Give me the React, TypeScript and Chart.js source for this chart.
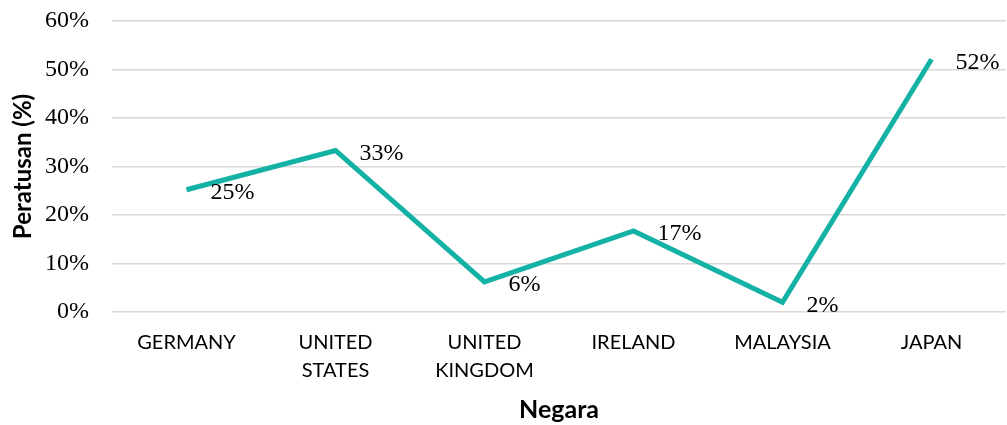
import React, { useEffect, useRef } from "react";
import { Chart, registerables } from "chart.js";

Chart.register(...registerables);

const categories: string[][] = [
  ["GERMANY"],
  ["UNITED", "STATES"],
  ["UNITED", "KINGDOM"],
  ["IRELAND"],
  ["MALAYSIA"],
  ["JAPAN"],
];
const values: number[] = [25.2, 33.3, 6.2, 16.7, 2.0, 52.1];
const valueLabels: string[] = ["25%", "33%", "6%", "17%", "2%", "52%"];
const yTicks: number[] = [0, 10, 20, 30, 40, 50, 60];

const LINE_COLOR = "#14B1A5";

const labelPlugin = {
  id: "valueLabels",
  afterDatasetsDraw(chart: any) {
    const ctx = chart.ctx;
    const meta = chart.getDatasetMeta(0);
    ctx.save();
    ctx.font = "24px 'Liberation Serif', 'Times New Roman', serif";
    ctx.fillStyle = "#000000";
    ctx.textAlign = "left";
    ctx.textBaseline = "middle";
    meta.data.forEach((pt: any, i: number) => {
      ctx.fillText(valueLabels[i], pt.x + 24, pt.y + 3);
    });
    ctx.restore();
  },
};

export default function App() {
  const ref = useRef<HTMLCanvasElement | null>(null);
  useEffect(() => {
    if (!ref.current) return;
    const chart = new Chart(ref.current, {
      type: "line",
      data: {
        labels: categories,
        datasets: [
          {
            data: values,
            borderColor: LINE_COLOR,
            borderWidth: 5,
            pointRadius: 0,
            tension: 0,
            fill: false,
          },
        ],
      },
      options: {
        animation: false,
        responsive: false,
        maintainAspectRatio: false,
        layout: { padding: { top: 21, right: 1, left: 0, bottom: 0 } },
        plugins: { legend: { display: false }, tooltip: { enabled: false } },
        scales: {
          x: {
            offset: true,
            grid: { display: false, drawTicks: false },
            border: { display: false },
            ticks: {
              color: "#000000",
              padding: 16,
              maxRotation: 0,
              autoSkip: false,
              font: { family: "Lato, 'Open Sans', sans-serif", size: 20, lineHeight: 1.43 },
            },
            title: {
              display: true,
              text: "Negara",
              color: "#000000",
              font: { family: "Lato, 'Open Sans', sans-serif", size: 25, weight: "bold" },
              padding: { top: 0, bottom: 0 },
            },
            afterFit: (s: any) => {
              s.height = 113;
              s.paddingLeft = 0;
              s.paddingRight = 0;
            },
          },
          y: {
            min: 0,
            max: 60,
            afterBuildTicks: (s: any) => {
              s.ticks = yTicks.map((v) => ({ value: v }));
            },
            grid: { color: "#D9D9D9", lineWidth: 1.5, drawTicks: false },
            border: { display: false },
            ticks: {
              color: "#000000",
              padding: 23,
              font: { family: "'Liberation Serif', 'Times New Roman', serif", size: 24 },
              callback: (v: any) => v + "%",
            },
            title: {
              display: true,
              text: "Peratusan (%)",
              color: "#000000",
              font: { family: "Lato, 'Open Sans', sans-serif", size: 24, weight: "bold" },
              padding: { top: 9, bottom: 0 },
            },
            afterFit: (s: any) => {
              s.width = 112;
              s.paddingTop = 0;
              s.paddingBottom = 0;
            },
          },
        },
      },
      plugins: [labelPlugin],
    });
    return () => chart.destroy();
  }, []);
  return (
    <div style={{ position: "fixed", left: 0, top: 0, width: 1007, height: 425, background: "#fff" }}>
      <canvas ref={ref} width={1007} height={425} style={{ width: 1007, height: 425 }} />
    </div>
  );
}
